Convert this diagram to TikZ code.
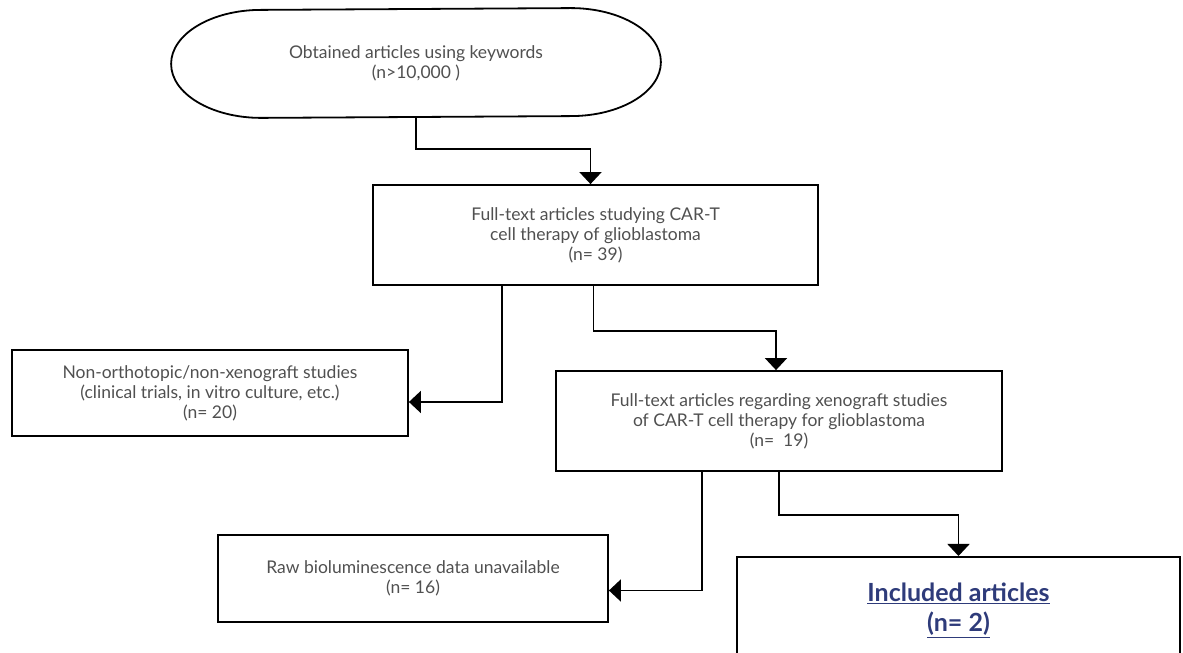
\documentclass[tikz,border=0pt]{standalone}
\usepackage{fontspec}
\setmainfont{Lato}
\usepackage{tikz}
\usetikzlibrary{calc,arrows.meta}

\definecolor{txtgray}{HTML}{505050}
\definecolor{incblue}{HTML}{2E3B7A}

\tikzset{
  box/.style={draw, line width=1.8pt, align=center, text=txtgray,
    font=\fontsize{17.5}{20}\selectfont},
  arr/.style={line width=1.8pt, -{Triangle[width=22pt,length=12pt]}}
}

\begin{document}
\begin{tikzpicture}[x=1pt,y=1pt]
\pgfmathsetmacro{\rx}{90} % half width of oval ends
\pgfmathsetmacro{\ry}{54} % half height of oval

\useasboundingbox (0,0) rectangle (1183,653);
\clip (0,0) rectangle (1183,653);

% start of the search
\node[box, draw=none, minimum width=488pt, minimum height=108pt] (kw) at (416,590)
  {Obtained articles using keywords\\(n>10,000 )};
\draw[line width=1.8pt] ($(kw.north east)+(-\rx,0)$)
  arc[start angle=90, end angle=-90, x radius=\rx, y radius=\ry]
  -- ($(kw.south west)+(\rx,0)$)
  arc[start angle=270, end angle=90, x radius=\rx, y radius=\ry] -- cycle;

% full text
\node[box, minimum width=445pt, minimum height=100pt] (ft) at (595.5,418)
  {Full-text articles studying CAR-T\\cell therapy of glioblastoma\\(n= 39)};

% excluded first
\node[box, minimum width=396pt, minimum height=86pt] (ex) at (210,260)
  {Non-orthotopic/non-xenograft studies\\(clinical trials, in vitro culture, etc.)\\(n= 20)};

% xenograft
\node[box, minimum width=446pt, minimum height=100pt] (xg) at (779,232)
  {Full-text articles regarding xenograft studies\\of CAR-T cell therapy for glioblastoma\\(n=~ 19)};

% excluded second
\node[box, minimum width=390pt, minimum height=87pt] (raw) at (413,74.5)
  {Raw bioluminescence data unavailable\\(n= 16)};

% included, runs off the bottom
\node[box, anchor=north, minimum width=443pt, inner ysep=26pt, text=incblue,
  font=\fontsize{25}{30}\selectfont\bfseries] (inc) at (958.5,97)
  {\underline{Included articles}\\\underline{(n= 2)}\\[90pt]\mbox{}};

% connectors
\draw[arr] (kw.south) -- ++(0,-31) -| ([xshift=-5pt]ft.north);
\draw[arr] ([xshift=130pt]ft.south west) |- ([yshift=-9pt]ex.east);
\draw[arr] ([xshift=-2pt]ft.south) -- ++(0,-45) -| ([xshift=-3pt]xg.north);
\draw[arr] ([xshift=147pt]xg.south west) |- ([yshift=-12pt]raw.east);
\draw[arr] (xg.south) -- ++(0,-43) -| (inc.north);

\end{tikzpicture}
\end{document}
